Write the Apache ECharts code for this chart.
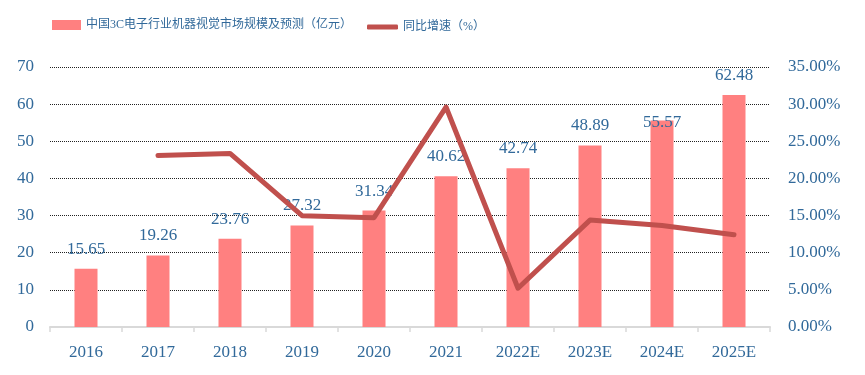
<!DOCTYPE html>
<html lang="zh">
<head>
    <meta charset="UTF-8">
    <script src="https://cdn.jsdelivr.net/npm/echarts@6/dist/echarts.min.js"></script>
    <title>中国3C电子行业机器视觉市场规模及预测</title>
    <style>
        html, body { margin: 0; padding: 0; background: #fff; }
        #main { width: 865px; height: 375px; }
    </style>
</head>
<body>
    <div id="main"></div>
    <script>
        var years = ['2016', '2017', '2018', '2019', '2020', '2021', '2022E', '2023E', '2024E', '2025E'];
        var marketSize = [15.65, 19.26, 23.76, 27.32, 31.34, 40.62, 42.74, 48.89, 55.57, 62.48];
        var growth = [null, 23.07, 23.36, 14.98, 14.71, 29.61, 5.22, 14.39, 13.66, 12.43];

        var txt = '#31699A';
        var serif = '"Liberation Serif", "Times New Roman", serif';
        var cjk = '"Liberation Serif", "Noto Sans CJK SC", serif';

        var chart = echarts.init(document.getElementById('main'));

        var barData = marketSize.map(function (v, i) {
            // 2024E label sits lower in the original, overlapping the bar top
            if (i === 8) return { value: v, label: { offset: [0, 21] } };
            return v;
        });

        var option = {
            animation: false,
            legend: [
                {
                    data: [{ name: '中国3C电子行业机器视觉市场规模及预测（亿元）', icon: 'rect' }],
                    left: 47, top: 14,
                    itemWidth: 29, itemHeight: 10,
                    textStyle: { color: txt, fontSize: 12, fontFamily: cjk }
                },
                {
                    data: [{ name: '同比增速（%）', icon: 'roundRect' }],
                    left: 362, top: 16,
                    itemWidth: 31, itemHeight: 5,
                    textStyle: { color: txt, fontSize: 12, fontFamily: cjk }
                }
            ],
            grid: { left: 50, right: 95, top: 67, bottom: 48 },
            xAxis: {
                type: 'category',
                data: years,
                axisLine: { lineStyle: { color: '#D9D9D9', width: 2 } },
                axisTick: { show: true, length: 5, lineStyle: { color: '#D9D9D9', width: 1.5 } },
                axisLabel: { color: txt, fontSize: 17, fontFamily: serif, margin: 17 }
            },
            yAxis: [
                {
                    type: 'value', min: 0, max: 70, interval: 10,
                    axisLine: { show: false }, axisTick: { show: false },
                    axisLabel: { color: txt, fontSize: 17, fontFamily: serif, margin: 16 },
                    splitLine: { lineStyle: { color: '#222', type: 'dotted', width: 1 } }
                },
                {
                    type: 'value', min: 0, max: 35, interval: 5,
                    axisLine: { show: false }, axisTick: { show: false },
                    axisLabel: {
                        color: txt, fontSize: 17, fontFamily: serif, margin: 18,
                        formatter: function (v) { return v.toFixed(2) + '%'; }
                    },
                    splitLine: { show: false }
                }
            ],
            series: [
                {
                    name: '中国3C电子行业机器视觉市场规模及预测（亿元）',
                    type: 'bar',
                    data: barData,
                    barWidth: 23,
                    itemStyle: { color: '#FF8080' },
                    label: {
                        show: true, position: 'top', distance: 11,
                        color: txt, fontSize: 17, fontFamily: serif
                    }
                },
                {
                    name: '同比增速（%）',
                    type: 'line',
                    yAxisIndex: 1,
                    data: growth,
                    symbol: 'none',
                    itemStyle: { color: '#C0504D' },
                    lineStyle: { color: '#C0504D', width: 5, cap: 'round', join: 'round' }
                }
            ]
        };

        chart.setOption(option);
    </script>
</body>
</html>
